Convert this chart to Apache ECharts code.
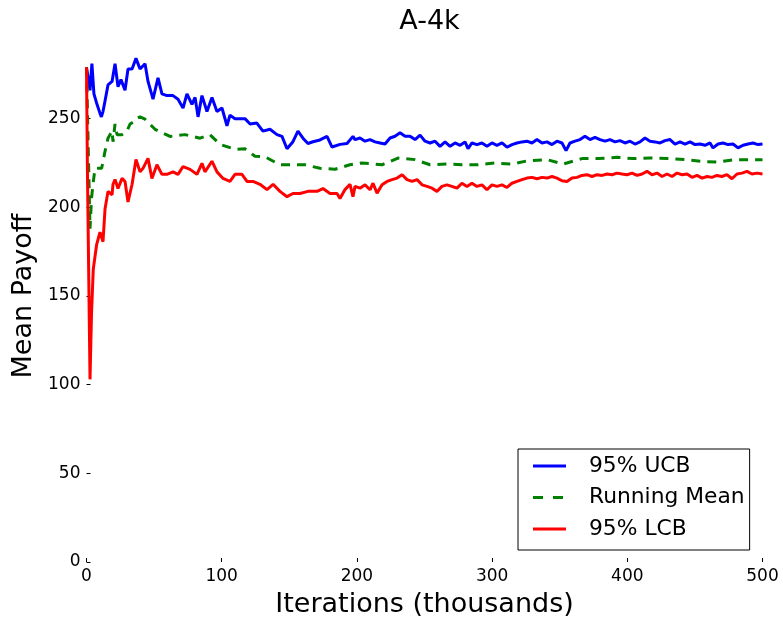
<!DOCTYPE html>
<html>
<head>
<meta charset="utf-8">
<script src="https://cdn.jsdelivr.net/npm/echarts@6/dist/echarts.min.js"></script>
<style>
  html, body { margin: 0; padding: 0; background: #fff; }
  #chart { width: 783px; height: 619px; }
</style>
</head>
<body>
<div id="chart"></div>
<script>
// iterations in thousands, payoff values
const ucbX = [0, 1, 2.6, 4, 5.5, 7.4, 10, 11, 12.2, 13.7, 15.9, 18.9, 21.1, 23.3, 25.5, 28.5, 30.7, 33.7, 36.6, 39.6,
  43.3, 45.5, 49.2, 52.9, 55.8, 59.5, 64, 67.7, 71.4, 74.3, 78, 80.3, 82.5, 85.4, 89.1, 92.8, 96.5, 100.2, 103.9, 106.1,
  109.8, 113.5, 117.2, 121, 126, 130.5, 135.7, 140.9, 144.6, 148.3, 152.7, 156.4, 160.1, 163.8, 167.5, 172.7, 177.9, 181.6,
  187.5, 192.7, 197.1,
  198.6, 202.3, 206.0, 209.7, 213.4, 217.1, 220.8, 224.5, 228.2, 231.9, 235.6, 239.3, 243.0, 246.7, 250.4, 254.1, 257.8,
  261.5, 265.2, 268.9, 272.6, 276.3, 280.0, 282.2, 285.1, 288.8, 292.5, 296.2, 299.9, 303.6, 307.3, 311.0, 314.7, 318.4,
  322.1, 325.8, 329.5, 333.2, 336.9, 340.6, 344.3, 348.0, 351.7, 354.7, 357.6, 361.3, 365.0, 368.7, 372.4, 376.1, 379.8,
  383.5, 387.2, 390.9, 394.6, 398.3, 402.0, 405.7, 409.4, 413.1, 416.8, 420.5, 424.2, 427.9, 431.6, 435.3, 439.0, 442.7,
  446.4, 450.1, 453.8, 457.5, 461.2, 463.4, 467.1, 470.8, 474.5, 478.2, 481.9, 485.6, 489.3, 493.0, 496.7, 500];
const ucbY = [279, 279, 266, 281, 264, 259, 253, 251, 254, 260, 269, 271, 281, 268, 272, 266, 278, 278, 284, 278,
  281, 271, 261, 273, 264, 263, 263, 261, 256, 264, 258, 262, 251, 263, 254, 262, 254, 256, 246, 252,
  250, 250, 250, 247, 247.5, 243, 244, 241, 240, 233, 237, 243, 239, 236, 237, 238, 240, 234,
  235.5, 236, 240,
  238.2, 239.1, 237.3, 238.2, 236.9, 236.3, 235.7, 239.1, 240.1, 242, 240.1, 240.1, 238.2, 240.7, 237.3, 236.3, 237.3,
  234.4, 236.9, 234.4, 236.3, 235, 236.9, 233.1, 236.3, 235.4, 236.3, 234.4, 236.3, 235, 236.3, 233.9, 235.4, 236.3,
  236.9, 237.3, 236.3, 238.2, 236.3, 236.9, 235.4, 237.3, 236.3, 232, 236.3, 237.3, 238.2, 240.1, 238.2, 239.5, 238.2,
  237.3, 238.2, 236.9, 237.6, 236.3, 237.3, 235.7, 236.9, 239.1, 237.3, 236.9, 236.3, 237.6, 238.2, 235.7, 236.9, 235.7,
  236.9, 235.4, 235.7, 235, 236.3, 233.5, 235.7, 236.3, 235.4, 235.7, 233.5, 235, 235.7, 236.3, 235.4, 235.7];

const meanX = [0, 2.6, 3.7, 4.8, 6.3, 8.5, 11.2, 13.7, 15.9, 17.4, 18.9, 19.6, 21.1, 22.6, 26.3, 30, 32.2, 35.9, 37.4, 39.6,
  43.3, 50.7, 61.8, 72.9, 84, 91.3, 98.8, 109.8, 117.2, 124.6, 132, 143.1, 154.2, 161.6, 172.7, 183.8, 194.9,
  203.8, 218.6, 230.4, 243.0, 254.1, 266.6, 277.7, 289.6, 302.1, 314.7, 326.5, 340.6, 352.4, 366.5, 378.3, 392.4,
  404.2, 416.8, 430.1, 442.7, 455.3, 467.1, 479.7, 494.5, 500];
const meanY = [279, 188, 205, 213, 222, 222, 222, 231.6, 239, 241, 243, 237, 247, 241, 241, 243, 247, 248.6, 250.3, 251,
  249.7, 244, 240, 241, 239, 241, 235.5, 232.7, 233, 228.8, 228.5, 224, 224, 224, 222, 221.5, 224,
  225, 224, 227.8, 226.9, 224, 224.4, 224, 224, 225, 224.4, 226.3, 226.9, 224.4, 227.5, 227.5, 228.2,
  227.5, 227.8, 227.5, 226.9, 225.9, 225.5, 226.9, 226.9, 226.9];

const lcbX = [0, 0.7, 2.6, 3.7, 5, 7.5, 10, 12.2, 13.7, 15.9, 18.9, 19.6, 21.1, 23.3, 26.3, 28.5, 30.7, 33.7, 36.6, 39.6,
  41.8, 45.5, 48.4, 52.1, 55.8, 59.5, 64, 67.7, 71.4, 76.6, 81.7, 85.4, 87.6, 92.8, 96.5, 101, 106.1, 109.8, 115, 118.7,
  123.2, 128.3, 133.5, 138, 143.1, 148.3, 152.7, 157.9, 163.8, 170.5, 174.9, 180.1, 185.3, 187.5, 191.2, 194.9, 197.1,
  198.6, 202.3, 206.0, 209.7, 211.9, 214.9, 218.6, 222.3, 226.0, 229.7, 233.4, 237.1, 240.8, 244.5, 248.2, 251.9, 255.6,
  259.2, 262.9, 266.6, 270.3, 274.0, 277.7, 281.4, 285.1, 288.8, 292.5, 296.2, 299.9, 303.6, 307.3, 311.0, 314.7, 318.4,
  322.1, 325.8, 329.5, 333.2, 336.9, 340.6, 344.3, 348.0, 351.7, 355.4, 359.1, 362.8, 366.5, 370.2, 373.9, 377.6, 381.3,
  385.0, 388.7, 392.4, 396.1, 399.8, 403.5, 407.2, 410.9, 414.6, 418.3, 422.0, 425.7, 429.4, 433.1, 436.8, 440.5, 444.2,
  447.9, 451.6, 455.3, 459.0, 462.6, 466.3, 470.0, 473.7, 477.4, 481.1, 484.8, 488.5, 492.2, 495.9, 500];
const lcbY = [279, 220, 103, 140, 165, 179, 186, 180.6, 199, 209, 207, 213, 215.7, 210.6, 216.3, 214.6, 203, 213, 227, 220,
  222, 227.6, 216.3, 224, 218.6, 218.6, 220, 218.6, 223, 221.4, 218.6, 224.8, 220, 226, 220, 216.3, 214.6, 218.6, 218.6, 214.6,
  214.6, 213, 210, 213, 209, 206, 207.8, 207.8, 209, 209, 210.6, 207.8, 207.8, 205, 210, 213, 206,
  211.8, 210.8, 212.7, 209.9, 213.6, 208, 212.7, 214.6, 215.6, 216.5, 218.4, 215.6, 214.6, 215.6, 212.7, 211.8, 210.8,
  209, 211.8, 212.7, 211.8, 210.8, 213.6, 211.8, 213.6, 211.8, 212.7, 209.9, 212.7, 211.8, 212.7, 211.2, 213.6, 214.6,
  215.6, 216.5, 216.9, 216.1, 216.9, 216.5, 217.4, 216.5, 215, 214.6, 216.5, 216.9, 218, 218.4, 217.4, 218.4, 218,
  218.8, 218.4, 219.3, 218.8, 218.4, 219.3, 218, 218.8, 220.3, 218.4, 219.3, 217.4, 218.8, 217.4, 219.3, 218.4, 218.8,
  216.9, 218, 216.5, 217.4, 216.9, 218, 217.4, 218.4, 216.1, 218.8, 219.3, 220.3, 218.8, 219.3, 218.8];

const xTicks = [0, 100, 200, 300, 400, 500];
const yTicks = [0, 50, 100, 150, 200, 250];

const pairs = (xs, ys) => xs.map((x, i) => [x, ys[i]]);
const font = "DejaVu Sans";
// legend swatches: solid bar and two dashes
const solidIcon = "path://M0,0H33V3H0Z";
const dashIcon = "path://M0,0H10V3H0Z M20,0H30V3H20Z M33,0H33V3H33Z";

const chart = echarts.init(document.getElementById("chart"));

chart.setOption({
  backgroundColor: "#fff",
  animation: false,
  textStyle: { fontFamily: font },
  title: {
    text: "A-4k",
    left: 424.5,
    textAlign: "center",
    top: 3,
    textStyle: { fontFamily: font, fontSize: 27, fontWeight: "normal", color: "#000" },
  },
  grid: { left: 86.5, right: 20.5, top: 30, bottom: 57, outerBoundsMode: "none", containLabel: false },
  legend: {
    orient: "vertical",
    left: 518,
    top: 449,
    width: 234,
    padding: [6, 5, 10, 15],
    itemWidth: 33,
    itemHeight: 3,
    itemGap: 9.5,
    borderColor: "#000",
    borderWidth: 1,
    backgroundColor: "#fff",
    textStyle: { fontFamily: font, fontSize: 21.8, color: "#000", lineHeight: 22, padding: [0, 0, 0, 18] },
    data: [
      { name: "95% UCB", icon: solidIcon },
      { name: "Running Mean", icon: dashIcon },
      { name: "95% LCB", icon: solidIcon },
    ],
  },
  xAxis: {
    type: "value",
    min: 0,
    max: 500,
    interval: 100,
    name: "Iterations (thousands)",
    nameLocation: "middle",
    nameGap: 29,
    nameTextStyle: { fontFamily: font, fontSize: 27, color: "#000" },
    axisLine: { show: false },
    axisTick: { show: true, inside: true, length: 4, customValues: xTicks, lineStyle: { color: "#000" } },
    axisLabel: { customValues: xTicks, fontSize: 17, color: "#000", margin: 6 },
    splitLine: { show: false },
  },
  yAxis: {
    type: "value",
    min: 0,
    max: 300,
    interval: 50,
    name: "Mean Payoff",
    nameLocation: "middle",
    nameGap: 43,
    nameTextStyle: { fontFamily: font, fontSize: 27, color: "#000" },
    axisLine: { show: false },
    axisTick: { show: true, inside: true, length: 4, customValues: yTicks, lineStyle: { color: "#000" } },
    axisLabel: { customValues: yTicks, fontSize: 17, color: "#000", margin: 6 },
    splitLine: { show: false },
  },
  series: [
    {
      name: "95% UCB",
      type: "line",
      symbol: "none",
      lineStyle: { color: "#0000ff", width: 3 },
      itemStyle: { color: "#0000ff" },
      data: pairs(ucbX, ucbY),
      z: 2,
    },
    {
      name: "Running Mean",
      type: "line",
      symbol: "none",
      lineStyle: { color: "#008000", width: 3, type: [9, 7] },
      itemStyle: { color: "#008000" },
      data: pairs(meanX, meanY),
      z: 3,
    },
    {
      name: "95% LCB",
      type: "line",
      symbol: "none",
      lineStyle: { color: "#ff0000", width: 3 },
      itemStyle: { color: "#ff0000" },
      data: pairs(lcbX, lcbY),
      z: 4,
    },
  ],
});
</script>
</body>
</html>
